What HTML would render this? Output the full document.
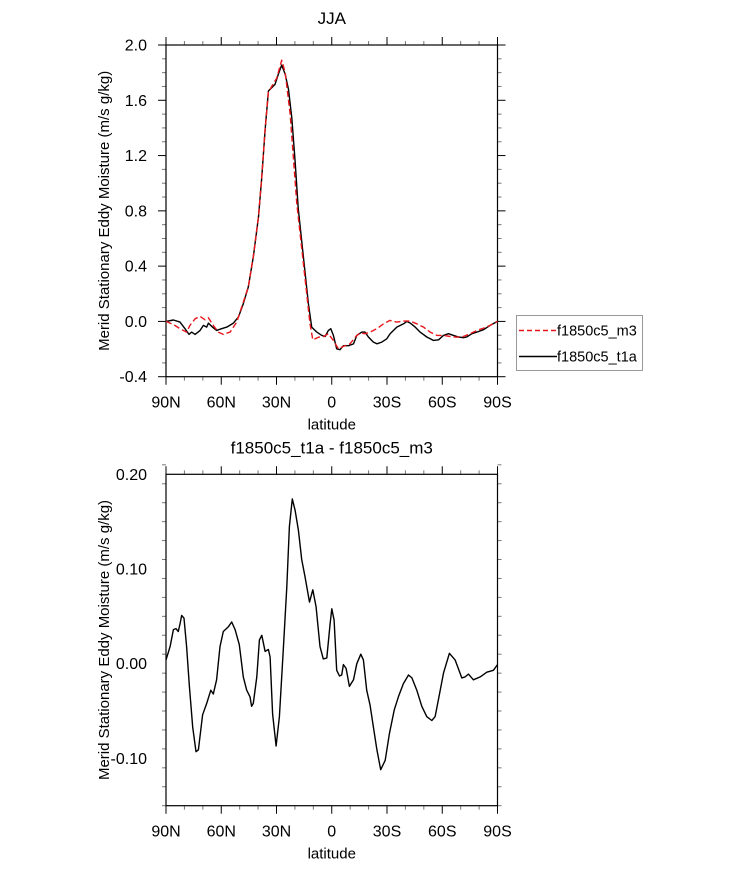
<!DOCTYPE html>
<html><head><meta charset="utf-8"><style>
body{margin:0;background:#fff;}
svg{display:block;font-family:"Liberation Sans",sans-serif;}
</style></head><body>
<svg id="c" width="733" height="869" xmlns="http://www.w3.org/2000/svg"></svg>
<script>
// Top panel data (JJA)
const latT1a = [90,86,82.4,79.7,77.5,76.1,74.2,71.5,69.7,67.9,67,65.2,62.5,59.8,57,53.4,50.7,48,45.3,42.6,39.8,38,36.2,34.4,32.6,30.8,29,27.2,25.3,23.5,21.7,19.9,18.2,15.4,12.7,10.9,8.1,5.4,3.6,1.8,0.5,-0.9,-2.7,-4.5,-6.3,-9.1,-11.8,-13.6,-16.3,-18.1,-19.9,-22.6,-24.5,-27.2,-29.9,-31.7,-35.3,-39,-40.8,-42.6,-45.3,-48,-51.6,-55.2,-58,-60.7,-63.4,-66.1,-68.8,-71.5,-73.3,-76.1,-78.8,-82.4,-86,-90];
const valT1a = [0,0.01,-0.005,-0.053,-0.094,-0.077,-0.094,-0.065,-0.029,-0.041,-0.012,-0.036,-0.065,-0.053,-0.041,-0.012,0.031,0.128,0.249,0.466,0.756,1.046,1.384,1.667,1.691,1.715,1.787,1.855,1.787,1.679,1.473,1.159,0.821,0.466,0.128,-0.041,-0.077,-0.101,-0.109,-0.065,-0.053,-0.101,-0.198,-0.205,-0.176,-0.176,-0.163,-0.101,-0.077,-0.077,-0.113,-0.15,-0.162,-0.15,-0.126,-0.089,-0.041,-0.017,0,-0.012,-0.041,-0.077,-0.113,-0.137,-0.133,-0.101,-0.089,-0.101,-0.113,-0.118,-0.113,-0.089,-0.077,-0.06,-0.029,0];
const latM3 = [90,86,82.4,78.8,77,74.2,71.5,68.8,67,64.3,61.6,58.9,55.2,51.6,48.9,45.3,42.6,39.8,38,36.2,34.4,32.6,29.9,27.2,25.3,22.6,19,15.4,11.8,10.3,7.2,4.5,1.8,-0.9,-3.6,-6.3,-9.9,-13.6,-15.4,-18.1,-20.8,-24.5,-28.1,-31.7,-35.3,-39,-42.6,-46.2,-49.8,-53.4,-57.1,-60.7,-64.3,-67.9,-71.5,-75.1,-78.8,-82.4,-86,-90];
const valM3 = [0,-0.022,-0.053,-0.077,-0.029,0.019,0.036,0.012,0.027,-0.029,-0.077,-0.094,-0.077,-0.005,0.104,0.25,0.47,0.76,1.05,1.39,1.66,1.7,1.76,1.89,1.8,1.504,0.852,0.418,-0.017,-0.133,-0.114,-0.109,-0.089,-0.138,-0.198,-0.181,-0.162,-0.101,-0.084,-0.089,-0.077,-0.053,-0.017,0.007,-0.005,0.002,0.002,-0.017,-0.041,-0.077,-0.101,-0.101,-0.109,-0.114,-0.109,-0.089,-0.065,-0.048,-0.029,0];
// Bottom panel data (difference)
const latDiff = [90,87.8,86,84.6,83.3,82.4,81.5,80.2,78.8,77.3,75.5,73.7,72.4,70.1,67.9,65.7,64.3,62.5,60.7,58.9,56.1,54.3,52.5,50.2,48,46.2,44.4,43.5,42.6,40.7,39.3,38,36.2,34.4,33.5,32.1,30.2,28.4,26.3,24.4,23,21.4,19.9,18.1,16.3,14.5,12.1,10.3,8.5,6.4,4.6,2.7,0.9,0,-1.3,-2.7,-4.2,-5.4,-6.3,-7.8,-9.6,-11.8,-13.6,-15.8,-17.2,-19,-20.8,-22.6,-24.5,-26.6,-29,-31.3,-33.9,-36.2,-38.9,-41.7,-43.5,-46.2,-48.9,-51.6,-54.3,-56.1,-57.9,-60.7,-63.9,-67,-70.6,-72.4,-74.2,-76.9,-80.6,-84.2,-87.8,-90];
const valDiff = [0.004,0.018,0.036,0.037,0.034,0.042,0.051,0.048,0.018,-0.024,-0.067,-0.093,-0.091,-0.054,-0.042,-0.028,-0.032,-0.017,0.018,0.034,0.039,0.044,0.036,0.02,-0.014,-0.028,-0.035,-0.045,-0.042,-0.014,0.025,0.03,0.013,0.015,0.007,-0.053,-0.087,-0.056,0.015,0.081,0.145,0.174,0.162,0.141,0.11,0.092,0.065,0.078,0.06,0.018,0.005,0.006,0.042,0.058,0.046,-0.007,-0.013,-0.012,-0.001,-0.005,-0.024,-0.017,0,0.01,0.004,-0.028,-0.044,-0.067,-0.091,-0.112,-0.102,-0.074,-0.049,-0.035,-0.021,-0.012,-0.015,-0.028,-0.045,-0.056,-0.06,-0.056,-0.038,-0.01,0.011,0.004,-0.015,-0.014,-0.011,-0.017,-0.014,-0.009,-0.007,-0.001];
const xTickVals = [90,60,30,0,-30,-60,-90];
const xTickLabels = ["90N","60N","30N","0","30S","60S","90S"];
const yTicksTop = [-0.4,0,0.4,0.8,1.2,1.6,2.0];
const yTickLabelsTop = ["-0.4","0.0","0.4","0.8","1.2","1.6","2.0"];
const yTicksBot = [-0.1,0,0.1,0.2];
const yTickLabelsBot = ["-0.10","0.00","0.10","0.20"];

const svg = document.getElementById('c');
const NS = 'http://www.w3.org/2000/svg';
function mk(tag, attrs, parent){const e=document.createElementNS(NS,tag);for(const k in attrs)e.setAttribute(k,attrs[k]);(parent||svg).appendChild(e);return e;}

function panel(o){
  const L=166,R=497.5;
  const x=v=>L+(90-v)/180*(R-L);
  const y=v=>o.bot-(v-o.ymin)/(o.ymax-o.ymin)*(o.bot-o.top);
  const g=mk('g',{});
  
  
  for(let v=90;v>=-90;v-=10){
    const maj=v%30===0, len=maj?8:4;
    const t1=mk('line',{x1:x(v),x2:x(v),y1:o.bot,y2:o.bot+len,stroke:maj?'#000':'#777','stroke-width':1},g);
    
    const t2=mk('line',{x1:x(v),x2:x(v),y1:o.top,y2:o.top-len,stroke:maj?'#000':'#777','stroke-width':1},g);
    
  }
  const nMinor=Math.round((o.ymax-o.ymin)/o.minor);
  for(let i=0;i<=nMinor;i++){
    const v=o.ymin+i*o.minor;
    const maj=o.yt.some(t=>Math.abs(t-v)<1e-6), len=maj?8:4;
    const a=mk('line',{x1:L,x2:L-len,y1:y(v),y2:y(v),stroke:maj?'#000':'#777','stroke-width':1},g);
    
    const b=mk('line',{x1:R,x2:R+len,y1:y(v),y2:y(v),stroke:maj?'#000':'#777','stroke-width':1},g);
    
  }
  const box=mk('rect',{x:L,y:o.top,width:R-L,height:o.bot-o.top,fill:'none',stroke:'#000','stroke-width':1.2},g);
  
  xTickVals.forEach((v,i)=>{
    const t=mk('text',{x:x(v),y:o.bot+31,'text-anchor':'middle','font-size':16},g);
    t.textContent=xTickLabels[i];
    
  });
  o.yt.forEach((v,i)=>{
    const t=mk('text',{x:L-19,y:y(v)+5.5,'text-anchor':'end','font-size':16},g);
    t.textContent=o.ytl[i];
    
  });
  const xt=mk('text',{x:(L+R)/2,y:o.bot+53,'text-anchor':'middle','font-size':15},g);
  xt.textContent='latitude';
  
  const cy=(o.top+o.bot)/2;
  const yt=mk('text',{x:109,y:cy,'text-anchor':'middle','font-size':15,transform:`rotate(-90 109 ${cy})`},g);
  yt.textContent='Merid Stationary Eddy Moisture (m/s g/kg)';
  
  const ti=mk('text',{x:(L+R)/2,y:o.top-21,'text-anchor':'middle','font-size':17},g);
  ti.textContent=o.title;
  
  o.series.forEach(s=>{
    const pts=s.lat.map((la,i)=>x(la).toFixed(1)+','+y(s.val[i]).toFixed(1)).join(' ');
    const p=mk('polyline',{points:pts,fill:'none',stroke:s.color,'stroke-width':1.4,'stroke-linejoin':'round','stroke-dasharray':s.dash||'none'},g);
    
  });
}
panel({name:'top-panel',top:45,bot:376.7,ymin:-0.4,ymax:2.0,minor:0.1,yt:yTicksTop,ytl:yTickLabelsTop,title:'JJA',
  series:[{lat:latT1a,val:valT1a,color:'#000',name:'line-f1850c5-t1a'},{lat:latM3,val:valM3,color:'#e8161b',dash:'6,3',name:'line-f1850c5-m3'}]});
panel({name:'bottom-panel',top:474.3,bot:805.7,ymin:-0.15,ymax:0.20,minor:0.02,yt:yTicksBot,ytl:yTickLabelsBot,title:'f1850c5_t1a - f1850c5_m3',
  series:[{lat:latDiff,val:valDiff,color:'#000',name:'line-difference'}]});
const lg=mk('g',{});


const lb=mk('rect',{x:516.5,y:315.5,width:126,height:55,fill:'#fff',stroke:'#999','stroke-width':1},lg);

[[330.5,'#e8161b','5,3','f1850c5_m3'],[356.5,'#000','none','f1850c5_t1a']].forEach(e=>{
  const l=mk('line',{x1:519,x2:557,y1:e[0],y2:e[0],stroke:e[1],'stroke-width':1.5,'stroke-dasharray':e[2]},lg);
  
  const t=mk('text',{x:557,y:e[0]+5,'font-size':14.5},lg);
  t.textContent=e[3];
  
});
</script>
</body></html>
